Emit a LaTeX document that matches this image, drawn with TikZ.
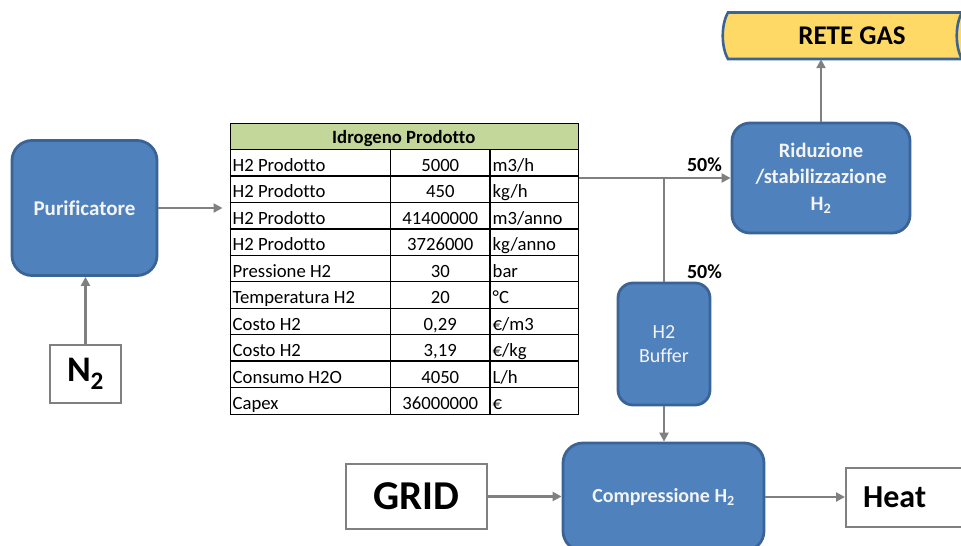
\documentclass[tikz,border=0pt]{standalone}
\usepackage{fontspec}
\setmainfont{Carlito}[Ligatures=NoCommon]
\usetikzlibrary{arrows.meta}
\definecolor{boxblue}{HTML}{4F81BD}
\definecolor{boxedge}{HTML}{3A6496}
\definecolor{arrowgray}{HTML}{808080}
\definecolor{hdrgreen}{HTML}{C4D79B}
\definecolor{reteyellow}{HTML}{FFD966}
\definecolor{boxtext}{HTML}{F4F4F4}
\newcommand\trow[4]{%
  \node[cell, anchor=base west] (l#1) at (232.5,{149.5+26.45*#1-4.5}) {#2};
  \node[cell, anchor=base] (v#1) at (440.25,{149.5+26.45*#1-4.5}) {#3};
  \node[cell, anchor=base west] (u#1) at (492.5,{149.5+26.45*#1-4.5}) {#4};
}
\begin{document}
\begin{tikzpicture}[x=1pt,y=-1pt,
 proc/.style={draw=boxedge, fill=boxblue, line width=2.8pt, rounded corners=20pt, text=boxtext, font=\fontsize{21}{26.5}\selectfont\bfseries, align=center, inner sep=0pt},
 ext/.style={draw=arrowgray, fill=white, line width=2.4pt, inner sep=0pt},
 flow/.style={draw=arrowgray, line width=2.2pt, -{Triangle[length=9pt,width=9pt]}},
 link/.style={draw=arrowgray, line width=2.2pt},
 cell/.style={font=\fontsize{18.7}{22}\selectfont, inner sep=0pt},
 pct/.style={font=\fontsize{20}{24}\selectfont\bfseries, inner sep=0pt},
]
\useasboundingbox (0,0) rectangle (961,546);
\clip (0,0) rectangle (961,546);

% RETE GAS shape
\draw[fill=reteyellow, draw=boxedge, line width=2.6pt]
  (728,12.5) -- (990,12.5) -- (990,59) -- (728,59)
  .. controls (721,47) and (721,24.5) .. (728,12.5) -- cycle;
\draw[draw=boxedge, line width=2.6pt] (962,12.5) .. controls (955,24.5) and (955,47) .. (962,59);
\node[font=\fontsize{27}{30}\selectfont\bfseries, minimum width=256pt, minimum height=46.5pt, inner sep=0pt] (rete) at (852,35.75) {RETE GAS};

% process boxes
\node[proc, minimum width=145pt, minimum height=135pt] (pur) at (84.5,208) {Purificatore};
\node[proc, minimum width=178pt, minimum height=110pt, rounded corners=18pt, font=\fontsize{20.5}{26.5}\selectfont\bfseries] (rid) at (821,178) {Riduzione\\/stabilizzazione\\H\textsubscript{2}};
\node[proc, minimum width=92pt, minimum height=122pt, rounded corners=15pt, font=\fontsize{20}{24}\selectfont] (buf) at (664,344) {H2\\Buffer};
\node[proc, minimum width=201pt, minimum height=108pt, font=\fontsize{20}{24}\selectfont\bfseries] (comp) at (663.5,497) {Compressione H\textsubscript{2}};

% external boxes
\node[ext, minimum width=71pt, minimum height=58pt, font=\fontsize{36}{40}\selectfont\bfseries] (n2) at (85.5,374) {N\textsubscript{2}};
\node[ext, minimum width=141pt, minimum height=65pt, font=\fontsize{41}{45}\selectfont\bfseries] (grid) at (416.5,496.5) {GRID};
\node[ext, anchor=west, minimum height=59pt, text width=118pt, inner xsep=17pt, align=left, font=\fontsize{32}{36}\selectfont\bfseries] (heat) at (845,497.5) {Heat};

% table
\fill[hdrgreen] (229.5,123) rectangle (578,149.5);
\node[draw=black, line width=1.3pt, minimum width=348.5pt, minimum height=291pt, inner sep=0pt, anchor=north west] (tbl) at (229.5,123) {};
\foreach \k in {0,...,9} \draw[line width=1.3pt] (229.5,{149.5+26.45*\k}) -- (578,{149.5+26.45*\k});
\draw[line width=1.8pt] (390.5,149.5) -- (390.5,414);
\draw[line width=1.8pt] (490,149.5) -- (490,414);
\node[cell, font=\fontsize{18.7}{22}\selectfont\bfseries, anchor=base] (hdr) at (403.75,143.5) {Idrogeno Prodotto};
\trow{1}{H2 Prodotto}{5000}{m3/h}
\trow{2}{H2 Prodotto}{450}{kg/h}
\trow{3}{H2 Prodotto}{41400000}{m3/anno}
\trow{4}{H2 Prodotto}{3726000}{kg/anno}
\trow{5}{Pressione H2}{30}{bar}
\trow{6}{Temperatura H2}{20}{°C}
\trow{7}{Costo H2}{0,29}{€/m3}
\trow{8}{Costo H2}{3,19}{€/kg}
\trow{9}{Consumo H2O}{4050}{L/h}
\trow{10}{Capex}{36000000}{€}

% labels
\node[pct] (p1) at (704.5,165) {50\%};
\node[pct] (p2) at (704.5,272) {50\%};

% connectors
\coordinate (split) at (664,178);
\draw[flow, shorten >=7pt] (pur.east) -- (pur.east -| tbl.west);
\draw[flow] (n2.north) -- (n2.north |- pur.south);
\draw[flow] (tbl.east |- rid.west) -- (rid.west);
\draw[link] (split) -- (buf.north);
\draw[flow] (rid.north) -- (rid.north |- rete.south);
\draw[flow] (buf.south) -- (buf.south |- comp.north);
\draw[flow] (grid.east) -- (grid.east -| comp.west);
\draw[flow] (comp.east) -- (comp.east -| heat.west);
\end{tikzpicture}
\end{document}
